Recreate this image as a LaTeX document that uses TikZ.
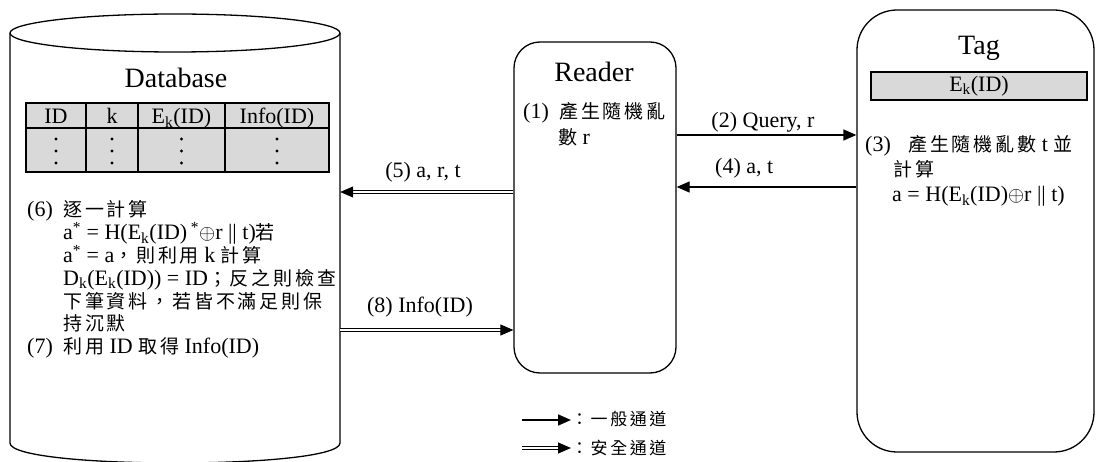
\documentclass[tikz,border=0pt]{standalone}
\usepackage{fontspec}
\setmainfont{Liberation Serif}
\newfontfamily\zhfont[LetterSpace=15]{Noto Sans CJK TC}
\usetikzlibrary{arrows.meta}
% Chinese runs inside the Latin text
\newcommand\zh[1]{{\fontsize{19}{20}\zhfont #1}}
\newcommand\zhs[1]{{\fontsize{17}{18}\zhfont #1}}
\newcommand\sub[1]{\textsubscript{#1}}
\newcommand\sups[1]{\textsuperscript{#1}}
% a block of lines with fixed line pitch
\newenvironment{lines}[2]{\begin{minipage}[t]{#1}\baselineskip=#2\lineskiplimit=-\maxdimen\lineskip=0pt}{\end{minipage}}

\tikzset{
  title/.style={anchor=base, inner sep=0pt, font=\fontsize{28}{30}\selectfont},
  body/.style={anchor=base west, inner sep=0pt, font=\fontsize{22}{20.8}\selectfont},
  lbl/.style={anchor=base, inner sep=0pt, font=\fontsize{22}{24}\selectfont},
  cell/.style={anchor=base, inner sep=0pt, font=\fontsize{22}{24}\selectfont},
  box/.style={draw, line width=1.3pt, inner sep=0pt},
  arr/.style={line width=1.3pt, -{Triangle[length=13pt,width=11pt]}},
  sarr/.style={double, double distance=1.6pt, line width=0.9pt, -{Triangle[length=13pt,width=11pt]}},
  dot/.style={fill=black, draw=none}
}

\begin{document}
\begin{tikzpicture}[x=1pt, y=-1pt]
\useasboundingbox (0,0) rectangle (1096,462);

% ---------- Database cylinder ----------
\node[inner sep=0pt, minimum width=330pt, minimum height=430pt] (db) at (175,248) {};
\draw[line width=1.3pt] (10,33) -- (10,443) .. controls (10,469.7) and (340,469.7) .. (340,443) -- (340,33);
\draw[line width=1.3pt] (175,33) ellipse [x radius=165, y radius=19];
\node[title] (dbt) at (176,88) {Database};

% table of records
\fill[black!15] (26,103) rectangle (329,172);
\draw[line width=1.5pt] (26,103) rectangle (329,172);
\draw[line width=1.5pt] (26,128) -- (329,128);
\foreach \x in {86,138,225} \draw[line width=1.5pt] (\x,103) -- (\x,172);
\node[cell] (h1) at (56,124) {ID};
\node[cell] (h2) at (112,124) {k};
\node[cell] (h3) at (181.5,124) {E\sub{k}(ID)};
\node[cell] (h4) at (277,124) {Info(ID)};
\foreach \x in {56,112,181.5,277}
  \foreach \y in {139,151,163} \fill[dot] (\x,\y) circle (1.6);

\node[body] (dbtxt) at (27,217) {\begin{lines}{330pt}{22.8pt}%
\makebox[36pt][l]{(6)}\zh{逐一計算}\\
\hspace*{36pt}a\sups{*} = H(E\sub{k}(ID)\,\sups{*}$\oplus$r || t)\zh{若}\\
\hspace*{36pt}a\sups{*} = a\zh{，則利用} k \zh{計算}\\
\hspace*{36pt}D\sub{k}(E\sub{k}(ID)) = ID\zh{；反之則檢查}\\
\hspace*{36pt}\zh{下筆資料，若皆不滿足則保}\\
\hspace*{36pt}\zh{持沉默}\\
\makebox[36pt][l]{(7)}\zh{利用} ID \zh{取得} Info(ID)
\end{lines}};

% ---------- Reader ----------
\node[box, rounded corners=26pt, minimum width=162pt, minimum height=331pt] (reader) at (595,207.5) {};
\node[title] (rdt) at (594,82) {Reader};
\node[body] (rdtxt) at (523,119) {\begin{lines}{150pt}{20.8pt}%
\makebox[36pt][l]{(1)}\zh{產生隨機亂}\\[5pt]
\hspace*{35pt}\zh{數} r
\end{lines}};

% ---------- Tag ----------
\node[box, rounded corners=40pt, minimum width=237pt, minimum height=442pt] (tag) at (975.5,231) {};
\node[title] (tgt) at (979,55) {Tag};
\node[draw, line width=1.5pt, fill=black!15, minimum width=216pt, minimum height=28pt, inner sep=0pt,
      font=\fontsize{22}{24}\selectfont] (ek) at (979,86) {E\sub{k}(ID)};
\node[body] (tgtxt) at (865,152) {\begin{lines}{230pt}{25pt}%
\makebox[43pt][l]{(3)}\zh{產生隨機亂數} t \zh{並}\\
\hspace*{28pt}\zh{計算}\\
\hspace*{27pt}a = H(E\sub{k}(ID)$\oplus$r || t)
\end{lines}};

% ---------- messages ----------
\draw[arr] (reader.east |- 0,135) -- (tag.west |- 0,135);
\node[lbl] (l2) at (763,128) {(2) Query, r};
\draw[arr] (tag.west |- 0,187) -- (reader.east |- 0,187);
\node[lbl, anchor=base west] (l4) at (715,174) {(4) a, t};
\draw[sarr] (reader.west |- 0,192) -- (db.east |- 0,192);
\node[lbl] (l5) at (423,178) {(5) a, r, t};
\draw[sarr] (db.east |- 0,330) -- (reader.west |- 0,330);
\node[lbl] (l8) at (420,313) {(8) Info(ID)};

% ---------- legend ----------
\node[anchor=base west, inner sep=0pt] (lg1) at (571,426) {\zhs{：一般通道}};
\node[anchor=base west, inner sep=0pt] (lg2) at (571,455) {\zhs{：安全通道}};
\coordinate (lgs1) at (522,420);
\coordinate (lgs2) at (522,448);
\draw[arr, line width=1.6pt] (lgs1) -- (lgs1 -| lg1.west);
\draw[sarr, line width=1.1pt] (lgs2) -- (lgs2 -| lg2.west);
\end{tikzpicture}
\end{document}
